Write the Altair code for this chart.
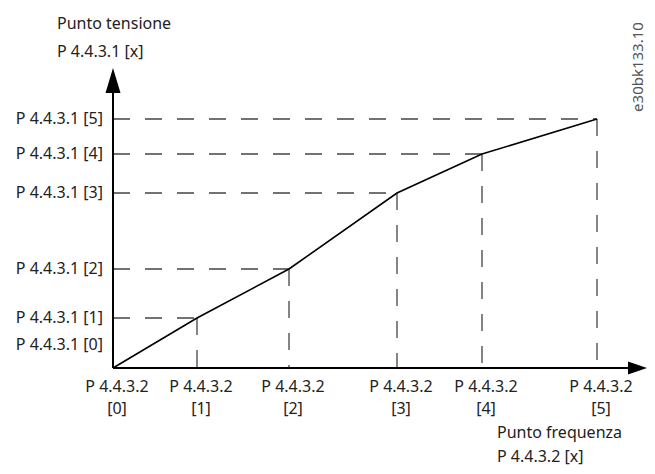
import altair as alt
import pandas as pd

# Data (pixel-like units from origin)
freq = [0, 84, 176, 284, 369, 484]
volt = [0, 50, 99, 175, 214, 249]
idx = ["[0]", "[1]", "[2]", "[3]", "[4]", "[5]"]
y_prefix = "P 4.4.3.1"
x_prefix = "P 4.4.3.2"

df = pd.DataFrame({"freq": freq, "volt": volt, "idx": idx})
df["zero"] = 0
df["ylab"] = [f"{y_prefix} {i}" for i in idx]
df["xlab"] = [f"{x_prefix}\n{i}" for i in idx]
df["n"] = list(range(len(idx)))

FONT = "Noto Sans"
FS = 16
XMAX = 534
YMAX = 300

xs = alt.Scale(domain=[0, XMAX])
ys = alt.Scale(domain=[0, YMAX])

base = alt.Chart(df)

hdash = base.transform_filter("datum.n > 0").mark_rule(
    color="#444", strokeWidth=1.3, strokeDash=[17, 15]
).encode(
    x=alt.X("zero:Q", scale=xs, axis=None),
    x2="freq:Q",
    y=alt.Y("volt:Q", scale=ys, axis=None),
)

vdash = base.transform_filter("datum.n > 0").mark_rule(
    color="#444", strokeWidth=1.3, strokeDash=[17, 15]
).encode(
    x=alt.X("freq:Q", scale=xs, axis=None),
    y=alt.Y("volt:Q", scale=ys, axis=None),
    y2="zero:Q",
)

line = base.mark_line(color="black", strokeWidth=1.6).encode(
    x=alt.X("freq:Q", scale=xs, axis=None),
    y=alt.Y("volt:Q", scale=ys, axis=None),
)

xaxis = alt.Chart(pd.DataFrame({"a": [0], "b": [XMAX - 18], "y": [0]})).mark_rule(
    color="black", strokeWidth=2
).encode(
    x=alt.X("a:Q", scale=xs, axis=None),
    x2="b:Q",
    y=alt.Y("y:Q", scale=ys, axis=None),
)
yaxis = alt.Chart(pd.DataFrame({"x": [0], "a": [0], "b": [YMAX - 24]})).mark_rule(
    color="black", strokeWidth=2
).encode(
    x=alt.X("x:Q", scale=xs, axis=None),
    y=alt.Y("a:Q", scale=ys, axis=None),
    y2="b:Q",
)

arrow_up = alt.Chart(pd.DataFrame({"x": [0], "y": [YMAX]})).mark_point(
    shape="M0,0L0.6,2L-0.6,2Z", size=625, filled=True, color="black", opacity=1
).encode(
    x=alt.X("x:Q", scale=xs, axis=None),
    y=alt.Y("y:Q", scale=ys, axis=None),
)
arrow_right = alt.Chart(pd.DataFrame({"x": [XMAX], "y": [0]})).mark_point(
    shape="M0,0L-1.9,-0.65L-1.9,0.65Z", size=400, filled=True, color="black", opacity=1
).encode(
    x=alt.X("x:Q", scale=xs, axis=None),
    y=alt.Y("y:Q", scale=ys, axis=None),
)

ylab = base.transform_filter("datum.n > 0").mark_text(
    align="right", baseline="middle", dx=-10, font=FONT, fontSize=FS, color="#222"
).encode(
    x=alt.X("zero:Q", scale=xs, axis=None),
    y=alt.Y("volt:Q", scale=ys, axis=None),
    text="ylab:N",
)
ylab0 = base.transform_filter("datum.n == 0").mark_text(
    align="right", baseline="middle", dx=-10, dy=-23, font=FONT, fontSize=FS, color="#222"
).encode(
    x=alt.X("zero:Q", scale=xs, axis=None),
    y=alt.Y("volt:Q", scale=ys, axis=None),
    text="ylab:N",
)

xlab = base.mark_text(
    align="center", baseline="top", dy=11, dx=4, lineBreak="\n", lineHeight=22,
    font=FONT, fontSize=FS, color="#222"
).encode(
    x=alt.X("freq:Q", scale=xs, axis=None),
    y=alt.Y("zero:Q", scale=ys, axis=None),
    text="xlab:N",
)

titles_top = alt.Chart(pd.DataFrame({
    "t": ["Punto tensione", "P 4.4.3.1 [x]"],
    "px": [-56, -56],
    "py": [-44, -16],
})).mark_text(
    align="left", baseline="middle", font=FONT, fontSize=FS, color="#222"
).encode(
    x=alt.X("px:Q", scale=None, axis=None),
    y=alt.Y("py:Q", scale=None, axis=None),
    text="t:N",
)

titles_bottom = alt.Chart(pd.DataFrame({
    "t": ["Punto frequenza", "P 4.4.3.2 [x]"],
    "px": [384, 384],
    "py": [370, 394],
})).mark_text(
    align="left", baseline="alphabetic", font=FONT, fontSize=FS, color="#222"
).encode(
    x=alt.X("px:Q", scale=None, axis=None),
    y=alt.Y("py:Q", scale=None, axis=None),
    text="t:N",
)

code = alt.Chart(pd.DataFrame({"t": ["e30bk133.10"]})).mark_text(
    angle=270, align="center", baseline="middle", font=FONT, fontSize=15, color="#555"
).encode(
    x=alt.value(525),
    y=alt.value(-1),
    text="t:N",
)

chart = alt.layer(
    hdash, vdash, xaxis, yaxis, arrow_up, arrow_right, line,
    ylab, ylab0, xlab, titles_top, titles_bottom, code
).properties(
    width=XMAX,
    height=YMAX,
    padding={"left": 105, "top": 60, "right": 0, "bottom": 98},
    autosize=alt.AutoSizeParams(type="none"),
).configure_view(stroke=None)

chart.save("out.html", embed_options={"renderer": "svg", "actions": False})
